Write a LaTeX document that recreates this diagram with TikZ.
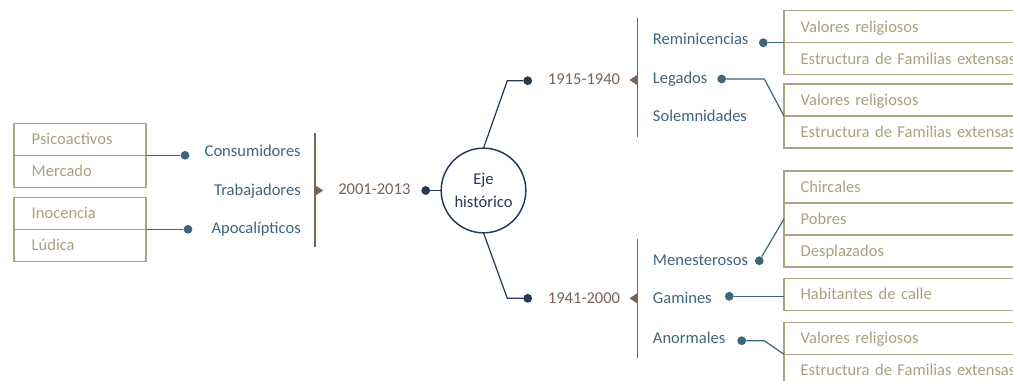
\documentclass[tikz,border=0pt]{standalone}
\usepackage{fontspec}
\setmainfont{Carlito}
\definecolor{navy}{HTML}{233956}
\definecolor{tealc}{HTML}{3E6579}
\definecolor{brn}{HTML}{7B6454}
\definecolor{kh}{HTML}{ABA584}
\definecolor{khtext}{HTML}{A8A17E}
\begin{document}
\begin{tikzpicture}[x=0.75pt,y=-0.75pt,
  font=\fontsize{12.4}{14}\selectfont,
  row/.style={draw=kh, line width=1pt, text=khtext, anchor=north west, outer sep=0pt,
    minimum height=24pt, text height=8.4pt, text depth=0pt, align=left},
  lrow/.style={row, inner xsep=13.3pt, text width=72.4pt},
  rrow/.style={row, inner xsep=12.5pt, text width=250pt},
  item/.style={text=tealc, inner sep=0pt},
  date/.style={text=brn, inner sep=0pt, anchor=base west},
  bdot/.style={circle, fill=tealc, inner sep=0pt, minimum size=6.6pt},
  ndot/.style={circle, fill=navy, inner sep=0pt, minimum size=6.6pt},
  conn/.style={draw=tealc, line width=0.9pt},
  nconn/.style={draw=navy, line width=0.9pt},
  brk/.style={draw=brn, line width=1.1pt},
]
\useasboundingbox (0,0) rectangle (1013,381);
\clip (0,0) rectangle (1013,381);

% ---------- left boxes ----------
\node[lrow] (psi) at (14,123.3) {Psicoactivos};
\node[lrow] (mer) at (14,155.3) {Mercado};
\node[lrow] (ino) at (14,197.3) {Inocencia};
\node[lrow] (lud) at (14,229.3) {Lúdica};

\node[bdot] (dcon) at (185,155.3) {};
\node[bdot] (dapo) at (188,229.3) {};
\draw[conn] (psi.south east) -- (dcon);
\draw[conn] (ino.south east) -- (dapo);

\node[item, anchor=base east] (con) at (301,156.7) {Consumidores};
\node[item, anchor=base east] (tra) at (301,195.7) {Trabajadores};
\node[item, anchor=base east] (apo) at (301,233.3) {Apocalípticos};

\coordinate (lbt) at (315,133.3);
\coordinate (lbb) at (315,246.7);
\draw[brk] (lbt) -- (lbb);
\fill[brn] (315.5,185.5) -- (323,190.5) -- (315.5,195.5) -- cycle;

\node[date] (d2001) at (338,195) {2001-2013};

% ---------- centre ----------
\node[circle, draw=navy, line width=1.1pt, minimum size=63.5pt, inner sep=0pt, outer sep=0pt,
  text=navy, align=center, font=\fontsize{12.4}{17.5}\selectfont] (eje) at (483.5,190.5) {Eje\\histórico};
\node[ndot] (nd0) at (425.7,190.5) {};
\draw[nconn] (nd0) -- (eje);

\node[ndot] (nd1) at (527.7,80.7) {};
\node[ndot] (nd2) at (527.7,298.3) {};
\draw[nconn] (eje.north) -- (507.3,80.7) -- (nd1);
\draw[nconn] (eje.south) -- (507.3,298.3) -- (nd2);

\node[date] (d1915) at (547.7,85) {1915-1940};
\node[date] (d1941) at (547.7,303.3) {1941-2000};

% ---------- right brackets ----------
\coordinate (rbt1) at (637.3,18);
\coordinate (rbb1) at (637.3,137);
\draw[brk] (rbt1) -- (rbb1);
\fill[brn] (637,75) -- (629.5,80) -- (637,85) -- cycle;

\coordinate (rbt2) at (637.3,239.3);
\coordinate (rbb2) at (637.3,358.3);
\draw[brk] (rbt2) -- (rbb2);
\fill[brn] (637,293.3) -- (629.5,298.3) -- (637,303.3) -- cycle;

% ---------- right items ----------
\node[item, anchor=base west] (rem) at (652.7,45) {Reminicencias};
\node[item, anchor=base west] (leg) at (652.7,83.3) {Legados};
\node[item, anchor=base west] (sol) at (652.7,121.7) {Solemnidades};
\node[item, anchor=base west] (men) at (652.7,265.7) {Menesterosos};
\node[item, anchor=base west] (gam) at (652.7,303.3) {Gamines};
\node[item, anchor=base west] (ano) at (652.7,343.3) {Anormales};

\node[bdot] (drem) at (763.3,42.7) {};
\node[bdot] (dleg) at (721.7,79) {};
\node[bdot] (dmen) at (759.3,260.7) {};
\node[bdot] (dgam) at (729.3,296.3) {};
\node[bdot] (dano) at (741.7,340.7) {};

% ---------- right boxes ----------
\node[rrow] (va1) at (784,10.7) {Valores religiosos};
\node[rrow] (es1) at (784,42.7) {Estructura de Familias extensas};
\node[rrow] (va2) at (784,84) {Valores religiosos};
\node[rrow] (es2) at (784,116) {Estructura de Familias extensas};
\node[rrow] (chi) at (784,171) {Chircales};
\node[rrow] (pob) at (784,203) {Pobres};
\node[rrow] (des) at (784,235) {Desplazados};
\node[rrow] (hab) at (784,278.3) {Habitantes de calle};
\node[rrow] (va3) at (784,322.3) {Valores religiosos};
\node[rrow] (es3) at (784,354.3) {Estructura de Familias extensas};

\draw[conn] (drem) -- (va1.south west);
\draw[conn] (dleg) -- (764.3,79) -- (va2.south west);
\draw[conn] (dmen) -- (pob.west);
\draw[conn] (dgam) -- (dgam -| hab.west);
\draw[conn] (dano) -- (764.3,340.7) -- (va3.south west);
\end{tikzpicture}
\end{document}
